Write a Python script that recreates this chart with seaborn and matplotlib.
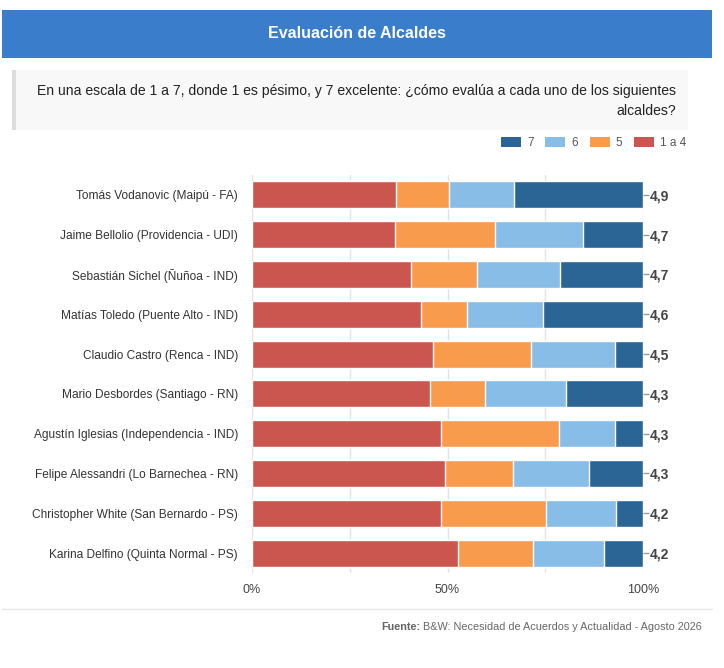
import pandas as pd
import matplotlib.pyplot as plt
import matplotlib.patches as patches
from matplotlib.lines import Line2D
import seaborn as sns

# --- Data (percentages) ---
alcaldes = [
    'Tomás Vodanovic (Maipú - FA)',
    'Jaime Bellolio (Providencia - UDI)',
    'Sebastián Sichel (Ñuñoa - IND)',
    'Matías Toledo (Puente Alto - IND)',
    'Claudio Castro (Renca - IND)',
    'Mario Desbordes (Santiago - RN)',
    'Agustín Iglesias (Independencia - IND)',
    'Felipe Alessandri (Lo Barnechea - RN)',
    'Christopher White (San Bernardo - PS)',
    'Karina Delfino (Quinta Normal - PS)',
]
nota_1a4 = [36.9, 36.7, 40.7, 43.3, 46.4, 45.4, 48.4, 49.4, 48.4, 52.8]
nota_5 = [13.6, 25.5, 16.9, 11.8, 25.0, 14.3, 30.2, 17.4, 26.7, 19.1]
nota_6 = [16.6, 22.5, 21.2, 19.4, 21.5, 20.6, 14.3, 19.4, 18.0, 18.1]
nota_7 = [32.9, 15.3, 21.2, 25.5, 7.1, 19.7, 7.1, 13.8, 6.9, 10.0]
promedios = ['4,9', '4,7', '4,7', '4,6', '4,5', '4,3', '4,3', '4,3', '4,2', '4,2']

series = ['1 a 4', '5', '6', '7']
colors = {'1 a 4': '#cb5650', '5': '#f89b4d', '6': '#88bde8', '7': '#2b6595'}

df = pd.DataFrame({'alcalde': alcaldes, '1 a 4': nota_1a4, '5': nota_5,
                   '6': nota_6, '7': nota_7})
# cumulative ends for stacked bars
cum = df[series].cumsum(axis=1)
cum['alcalde'] = df['alcalde']

sns.set_style("white")
plt.rcParams['font.family'] = ['Liberation Sans', 'DejaVu Sans']

W, H = 724, 668
fig = plt.figure(figsize=(W / 100, H / 100), dpi=100)

def fx(px):
    return px / W

def fy(py):
    return 1 - py / H

ax = fig.add_axes([fx(252), fy(573), fx(643) - fx(252), fy(175) - fy(573)])

# draw from the longest (total) to the shortest so segments show
for s in reversed(series):
    sns.barplot(data=cum, x=s, y='alcalde', orient='h', color=colors[s],
                saturation=1, width=0.68, edgecolor='white', linewidth=1, ax=ax)

ax.set_xlim(0, 100)
ax.set_ylim(9.5, -0.5)
ax.set_xticks([0, 25, 50, 75, 100])
ax.set_xticklabels(['0%', '', '50%', '', '100%'])
ax.set_axisbelow(True)
ax.grid(axis='x', color='#e3e3e3', linewidth=1)
ax.set_xlabel('')
ax.set_ylabel('')
for sp in ax.spines.values():
    sp.set_visible(False)
ax.tick_params(axis='x', length=0, pad=8, labelsize=9, labelcolor='#444444')
ax.tick_params(axis='y', length=0, pad=10, labelsize=8.6, labelcolor='#333333')

# average grade labels on the right
ax2 = ax.twinx()
ax2.set_ylim(ax.get_ylim())
ax2.set_yticks(range(len(promedios)))
ax2.set_yticklabels(promedios, fontweight='bold')
ax2.tick_params(axis='y', length=4, width=1, color='#999999', pad=1,
                labelsize=10, labelcolor='#444444')
for sp in ax2.spines.values():
    sp.set_visible(False)

# header band
fig.patches.append(patches.Rectangle((fx(2), fy(58)), fx(712) - fx(2), fy(10) - fy(58),
                                     transform=fig.transFigure, facecolor='#3a7dca',
                                     edgecolor='none', zorder=0))
fig.text(fx(357), fy(34), 'Evaluación de Alcaldes', color='white', fontsize=11.5,
         fontweight='bold', ha='center', va='center')

# question box
fig.patches.append(patches.Rectangle((fx(12), fy(130)), fx(688) - fx(12), fy(70) - fy(130),
                                     transform=fig.transFigure, facecolor='#f8f8f8',
                                     edgecolor='none', zorder=0))
fig.patches.append(patches.Rectangle((fx(12), fy(130)), fx(16) - fx(12), fy(70) - fy(130),
                                     transform=fig.transFigure, facecolor='#dddddd',
                                     edgecolor='none', zorder=0))
fig.text(fx(676), fy(91), 'En una escala de 1 a 7, donde 1 es pésimo, y 7 excelente: '
         '¿cómo evalúa a cada uno de los siguientes', color='#222222', fontsize=10.1,
         ha='right', va='center')
fig.text(fx(676), fy(111), 'alcaldes?', color='#222222', fontsize=10.1,
         ha='right', va='center')

# legend
handles = [patches.Patch(facecolor=colors[s], edgecolor='none', label=s)
           for s in ['7', '6', '5', '1 a 4']]
leg = fig.legend(handles=handles, loc='center right', bbox_to_anchor=(fx(697), fy(143)),
                 ncol=4, frameon=False, fontsize=8.5, handlelength=1.7, handleheight=0.9,
                 handletextpad=0.5, columnspacing=1.0)
for t in leg.get_texts():
    t.set_color('#555555')

# footer
fig.add_artist(Line2D([fx(2), fx(712)], [fy(609), fy(609)], transform=fig.transFigure,
                      color='#e6e6e6', linewidth=1))
src = fig.text(fx(702), fy(627), 'B&W: Necesidad de Acuerdos y Actualidad - Agosto 2026',
               color='#666666', fontsize=7.8, ha='right', va='center')
fig.canvas.draw()
bb = src.get_window_extent()
fig.text(bb.x0 / W - fx(3), fy(627), 'Fuente:', color='#666666', fontsize=7.8,
         fontweight='bold', ha='right', va='center')

fig.savefig('out.png', dpi=100)
plt.close(fig)
